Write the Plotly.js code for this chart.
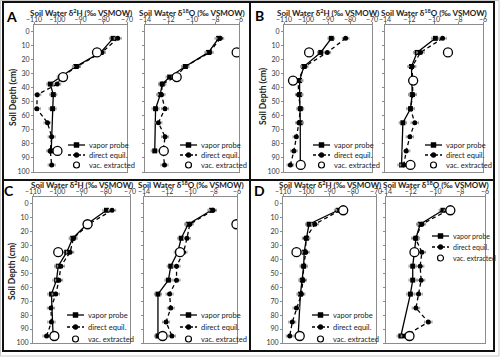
<!DOCTYPE html>
<html>
<head>
<meta charset="utf-8">
<script src="https://cdn.plot.ly/plotly-3.0.1.min.js"></script>
<style>
  body { margin: 0; background: #fff; }
  #chart { width: 500px; height: 358px; }
</style>
</head>
<body>
<div id="chart"></div>
<script>
// Soil depth (cm) of each sample set
const depthA_vp = [5, 15, 25, 32.5, 37.5, 45, 55, 85];
const depthA_de = [5, 15, 25, 32.5, 37.5, 45, 55, 65, 75, 85, 95];
const depthA_vac = [15, 32.5, 85];
const depth_vp = [5, 15, 25, 35, 45, 55, 65, 95];
const depth_de = [5, 15, 25, 35, 45, 55, 65, 75, 85, 95];
const depthBC_vac = [15, 35, 95];
const depthD_vac = [5, 35, 95];

// Panel A
const aH_vp = [-76, -81.3, -92, -98.5, -103, -101.7, -102, -102.6];
const aH_de = [-74, -80.8, -91.5, -98.2, -100, -108.6, -108.8, -104.2, -102.4, -103, -102.4];
const aH_vac = [-82.9, -97.5, -99.9];
const aO_vp = [-7.74, -8.6, -10.57, -11.9, -12.54, -12.7, -13.1, -13.17];
const aO_de = [-7.6, -8.5, -10.57, -11.4, -12.54, -12.6, -12.3, -12.86, -12.29, -12.46, -12.34];
const aO_vac = [-6.2, -11.3, -12.4];

// Panel B
const bH_vp = [-88.5, -93.3, -101, -102.9, -102.9, -102.6, -102.6, -102.6];
const bH_de = [-82, -90.3, -100.6, -103.6, -103.3, -102.6, -103.2, -104.4, -105.5, -107.1];
const bH_vac = [-98.6, -105.9, -102.4];
const bO_vp = [-9.89, -11.38, -11.84, -11.78, -11.78, -11.92, -12.54, -12.65];
const bO_de = [-9.3, -11.1, -11.78, -11.78, -11.73, -11.92, -11.57, -11.97, -12.27, -12.46];
const bO_vac = [-8.86, -11.7, -11.92];

// Panel C
const cH_vp = [-79.7, -87.8, -93.6, -96.1, -99.6, -100.3, -102.4, -101.7];
const cH_de = [-77.4, -87.1, -93.3, -94.7, -98.5, -99.3, -100.6, -102.6, -102.4, -104.4];
const cH_vac = [-87.5, -99.6, -101.2];
const cO_vp = [-8.2, -10.2, -10.8, -11.1, -11.7, -11.9, -12.8, -12.8];
const cO_de = [-8.06, -10.06, -10.3, -10.6, -11.2, -11.2, -11.8, -11.7, -12.1, -11.6];
const cO_vac = [-6.05, -10.9, -12.4];

// Panel D
const dH_vp = [-86.3, -98.8, -99.9, -100.9, -101.1, -101.7, -102.5, -103.5];
const dH_de = [-85.5, -96.3, -100.2, -100.2, -101.1, -101.4, -102.1, -104.2, -106, -107.1];
const dH_vac = [-84.1, -104.2, -102.8];
const dO_vp = [-9.4, -11.24, -11.58, -11.7, -11.84, -11.84, -12.03, -12.8];
const dO_de = [-9.0, -11.1, -11.63, -11.1, -11.24, -11.16, -11.37, -11.58, -10.58, -12.47];
const dO_vac = [-8.8, -11.7, -12.1];

// analytical uncertainty shown as horizontal bars
const errH = 1.5;
const errO = 0.3;

const seriesNames = ['vapor probe', 'direct equil.', 'vac. extracted'];
const titleH = 'Soil Water δ<sup>2</sup>H (‰ VSMOW)';
const titleO = 'Soil Water δ<sup>18</sup>O (‰ VSMOW)';

const W = 500, H = 358;
const px = v => v / W;
const py = v => 1 - v / H;
const FONT = 'Lato, "Open Sans", sans-serif';

// one entry per small chart; pixel boxes of the plot frames
const charts = [
  { iso: 'H', x: [34, 127], y: [25, 172], vp: [depthA_vp, aH_vp], de: [depthA_de, aH_de], vac: [depthA_vac, aH_vac], leg: [68, 145, 10], ytitle: 97, labels: true },
  { iso: 'O', x: [145, 239], y: [25, 172], vp: [depthA_vp, aO_vp], de: [depthA_de, aO_de], vac: [depthA_vac, aO_vac], leg: [180, 145, 10] },
  { iso: 'H', x: [284, 372], y: [25, 172], vp: [depth_vp, bH_vp], de: [depth_de, bH_de], vac: [depthBC_vac, bH_vac], leg: [313, 145, 10], ytitle: 96, labels: true },
  { iso: 'O', x: [385, 483], y: [25, 172], vp: [depth_vp, bO_vp], de: [depth_de, bO_de], vac: [depthBC_vac, bO_vac], leg: [425, 145, 10] },
  { iso: 'H', x: [33, 130], y: [197, 343], vp: [depth_vp, cH_vp], de: [depth_de, cH_de], vac: [depthBC_vac, cH_vac], leg: [67, 315, 12], ytitle: 271, labels: true },
  { iso: 'O', x: [144, 237], y: [197, 343], vp: [depth_vp, cO_vp], de: [depth_de, cO_de], vac: [depthBC_vac, cO_vac], leg: [180, 315, 12] },
  { iso: 'H', x: [283, 376], y: [197, 343], vp: [depth_vp, dH_vp], de: [depth_de, dH_de], vac: [depthD_vac, dH_vac], leg: [312, 315, 12], labels: true },
  { iso: 'O', x: [386, 485], y: [197, 343], vp: [depth_vp, dO_vp], de: [depth_de, dO_de], vac: [depthD_vac, dO_vac], leg: [432, 236, 11] }
];

const data = [];
const layout = {
  width: W, height: H,
  margin: { l: 0, r: 0, t: 0, b: 0 },
  paper_bgcolor: '#fff',
  plot_bgcolor: '#fff',
  showlegend: false,
  font: { family: FONT, size: 8, color: '#222' },
  shapes: [],
  annotations: []
};

charts.forEach((c, i) => {
  const n = i === 0 ? '' : String(i + 1);
  const xa = 'x' + n, ya = 'y' + n;
  const isH = c.iso === 'H';
  const err = isH ? errH : errO;
  const errBar = { type: 'constant', value: err, color: '#9a9a9a', thickness: 1, width: 1.5 };

  data.push({
    x: c.vp[1], y: c.vp[0], xaxis: xa, yaxis: ya, name: seriesNames[0],
    type: 'scatter', mode: 'lines+markers',
    line: { color: '#000', width: 1.3 },
    marker: { symbol: 'square', size: 5, color: '#000' },
    error_x: errBar
  });
  data.push({
    x: c.de[1], y: c.de[0], xaxis: xa, yaxis: ya, name: seriesNames[1],
    type: 'scatter', mode: 'lines+markers',
    line: { color: '#000', width: 1.3, dash: '4px,3px' },
    marker: { symbol: 'circle', size: 5, color: '#000' },
    error_x: errBar
  });
  data.push({
    x: c.vac[1], y: c.vac[0], xaxis: xa, yaxis: ya, name: seriesNames[2],
    type: 'scatter', mode: 'markers',
    marker: { symbol: 'circle', size: 9, color: '#fff', line: { color: '#000', width: 1.3 } }
  });

  const axisCommon = {
    showline: true, mirror: true, linecolor: '#8c8c8c', linewidth: 1,
    showgrid: false, zeroline: false,
    ticks: 'outside', ticklen: 2, tickcolor: '#8c8c8c',
    tickfont: { family: FONT, size: 7, color: '#333' }
  };
  layout['xaxis' + n] = Object.assign({}, axisCommon, {
    anchor: ya, side: 'top',
    domain: [px(c.x[0]), px(c.x[1])],
    range: isH ? [-110, -70] : [-14, -6],
    dtick: isH ? 10 : 2,
    tick0: isH ? -110 : -14,
    ticklabelstandoff: -3
  });
  layout['yaxis' + n] = Object.assign({}, axisCommon, {
    anchor: xa,
    domain: [py(c.y[1]), py(c.y[0])],
    range: [100, -4.5],
    tickvals: [0, 10, 20, 30, 40, 50, 60, 70, 80, 90, 100],
    showticklabels: !!c.labels
  });

  // chart title above each small chart
  layout.annotations.push({
    xref: 'paper', yref: 'paper', x: px((c.x[0] + c.x[1]) / 2), y: py(c.y[0] - 12.5),
    text: '<b>' + (isH ? titleH : titleO) + '</b>', showarrow: false,
    xanchor: 'center', yanchor: 'middle', font: { family: FONT, size: 8, color: '#222' }
  });
  if (c.ytitle) {
    layout.annotations.push({
      xref: 'paper', yref: 'paper', x: px(c.x[0] - 21), y: py(c.ytitle),
      text: '<b>Soil Depth (cm)</b>', showarrow: false, textangle: -90,
      xanchor: 'center', yanchor: 'middle', font: { family: FONT, size: 8.5, color: '#222' }
    });
  }

  // legend drawn by hand so its rows keep the tight Excel spacing
  const [lx, ly, dy] = c.leg;
  const len = 17, mid = lx + len / 2;
  const fs = i === 7 ? 7 : 7.5;
  const line = (yy, dash) => ({
    type: 'line', xref: 'paper', yref: 'paper',
    x0: px(lx), x1: px(lx + len), y0: py(yy), y1: py(yy),
    line: { color: '#000', width: 1.3, dash: dash }
  });
  const box = (yy, r, type, fill) => ({
    type: type, xref: 'paper', yref: 'paper',
    x0: px(mid - r), x1: px(mid + r), y0: py(yy + r), y1: py(yy - r),
    fillcolor: fill, line: { color: '#000', width: type === 'circle' && fill === '#fff' ? 1.2 : 0.5 }
  });
  layout.shapes.push(line(ly, 'solid'), box(ly, 2.5, 'rect', '#000'));
  layout.shapes.push(line(ly + dy, '3px,2px'), box(ly + dy, 2.5, 'circle', '#000'));
  layout.shapes.push(box(ly + 2 * dy, 3, 'circle', '#fff'));
  seriesNames.forEach((s, k) => {
    layout.annotations.push({
      xref: 'paper', yref: 'paper', x: px(lx + len + 2), y: py(ly + k * dy),
      text: s, showarrow: false, xanchor: 'left', yanchor: 'middle',
      font: { family: FONT, size: fs, color: '#222' }
    });
  });
});

// panel letters
[['A', 11, 17], ['B', 259, 15], ['C', 9, 190], ['D', 259, 190]].forEach(([t, x, y]) => {
  layout.annotations.push({
    xref: 'paper', yref: 'paper', x: px(x), y: py(y), text: '<b>' + t + '</b>',
    showarrow: false, xanchor: 'center', yanchor: 'middle',
    font: { family: FONT, size: 14, color: '#000' }
  });
});

// quadrant frames
layout.shapes.push(
  { type: 'rect', xref: 'paper', yref: 'paper', x0: px(0.5), x1: px(499), y0: py(0.5), y1: py(356), line: { color: '#c8c8c8', width: 1 } },
  { type: 'rect', xref: 'paper', yref: 'paper', x0: px(3), x1: px(494), y0: py(2), y1: py(351), line: { color: '#111', width: 2 } },
  { type: 'line', xref: 'paper', yref: 'paper', x0: px(250), x1: px(250), y0: py(2), y1: py(351), line: { color: '#111', width: 2 } },
  { type: 'line', xref: 'paper', yref: 'paper', x0: px(3), x1: px(494), y0: py(180), y1: py(180), line: { color: '#111', width: 2 } }
);

Plotly.newPlot('chart', data, layout, { displayModeBar: false, staticPlot: true });
</script>
</body>
</html>
